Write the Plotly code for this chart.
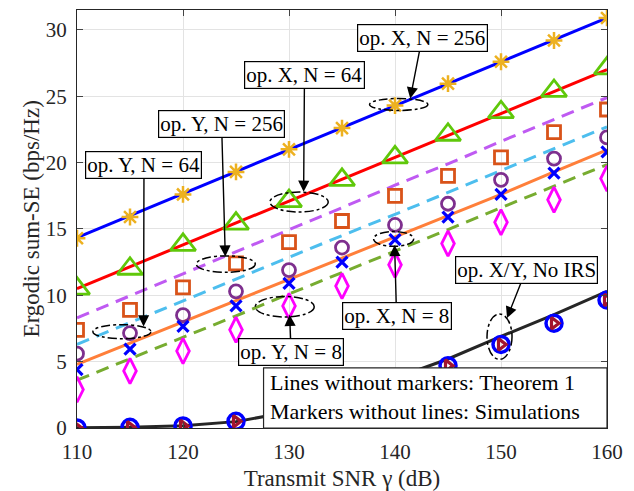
import plotly.graph_objects as go

snr = [110, 115, 120, 125, 130, 135, 140, 145, 150, 155, 160]

# Theory (lines without markers)
th_x256 = [14.35, 16.0, 17.65, 19.3, 20.95, 22.6, 24.25, 25.9, 27.55, 29.2, 30.9]
th_x64 = [10.5, 12.15, 13.8, 15.45, 17.1, 18.75, 20.4, 22.05, 23.7, 25.35, 27.0]
th_y256 = [8.3, 9.95, 11.6, 13.3, 14.95, 16.6, 18.3, 19.9, 21.6, 23.25, 24.9]
th_y64 = [6.3, 7.95, 9.6, 11.2, 12.85, 14.5, 16.1, 17.75, 19.4, 21.05, 22.7]
th_x8 = [4.8, 6.4, 8.0, 9.6, 11.2, 12.8, 14.4, 16.0, 17.6, 19.3, 20.95]
th_y8 = [3.6, 5.2, 6.85, 8.45, 10.1, 11.7, 13.35, 14.95, 16.6, 18.2, 19.85]
th_noirs = [0.02, 0.06, 0.17, 0.48, 1.2, 2.3, 3.75, 5.2, 6.9, 8.55, 10.3]

# Simulations (markers without lines)
sim_x256 = [14.3, 15.9, 17.6, 19.3, 21.0, 22.6, 24.3, 25.95, 27.6, 29.2, 30.9]
sim_x64 = [10.5, 12.0, 13.8, 15.4, 17.1, 18.7, 20.4, 22.1, 23.8, 25.4, 27.1]
sim_y256 = [7.4, 8.9, 10.6, 12.4, 14.0, 15.6, 17.5, 19.0, 20.4, 22.3, 24.0]
sim_y64 = [5.6, 7.15, 8.5, 10.3, 11.9, 13.6, 15.3, 16.9, 18.7, 20.3, 21.9]
sim_x8 = [4.4, 5.95, 7.65, 9.2, 10.9, 12.5, 14.2, 15.9, 17.6, 19.2, 20.8]
sim_y8 = [2.9, 4.3, 5.8, 7.4, 9.2, 10.7, 12.3, 13.9, 15.5, 17.2, 18.8]
sim_noirs = [0.0, 0.05, 0.15, 0.5, 1.2, 2.2, 3.4, 4.7, 6.3, 7.9, 9.65]

x_ticks = [110, 120, 130, 140, 150, 160]
y_ticks = [0, 5, 10, 15, 20, 25, 30]

FONT = "Liberation Serif"

fig = go.Figure()

DASH = "13px,8px"
lines = [
    (th_x256, "#0000FF", "solid"),
    (th_x64, "#FF0000", "solid"),
    (th_y256, "#BF5AF2", DASH),
    (th_y64, "#4DBEEE", DASH),
    (th_x8, "#FF7F3A", "solid"),
    (th_y8, "#77AC30", DASH),
    (th_noirs, "#262626", "solid"),
]
for ys, col, dash in lines:
    fig.add_trace(go.Scatter(x=snr, y=ys, mode="lines",
                             line=dict(color=col, width=3, dash=dash),
                             showlegend=False, hoverinfo="skip"))

markers = [
    (sim_x256, "asterisk-open", "#EDB120", 14, 2.5),
    (sim_x64, "triangle-up-open", "#5FC80A", 22, 2.8),
    (sim_y256, "square-open", "#D95319", 13, 2.8),
    (sim_y64, "circle-open", "#7E2F8E", 13, 2.8),
    (sim_x8, "x-thin-open", "#0000FF", 11, 3.2),
    (sim_y8, "diamond-tall-open", "#FF00FF", 18, 2.8),
    (sim_noirs, "circle-open", "#0000FF", 16, 3.5),
    (sim_noirs, "triangle-right-open", "#A2142F", 10, 3.2),
]
for ys, sym, col, size, lw in markers:
    fig.add_trace(go.Scatter(x=snr, y=ys, mode="markers",
                             marker=dict(symbol=sym, size=size, color=col,
                                         line=dict(color=col, width=lw)),
                             showlegend=False, hoverinfo="skip"))

# dash-dot ellipses
ellipses = [
    (137.6, 143.1, 23.93, 24.83),
    (128.2, 133.7, 16.28, 17.78),
    (121.26, 126.82, 11.73, 12.97),
    (111.5, 116.97, 6.73, 7.79),
    (126.82, 132.38, 8.37, 9.91),
    (137.98, 141.76, 13.69, 14.81),
    (148.68, 151.04, 5.17, 8.59),
]
shapes = []
for x0, x1, y0, y1 in ellipses:
    shapes.append(dict(type="circle", xref="x", yref="y", x0=x0, x1=x1, y0=y0, y1=y1,
                       line=dict(color="black", width=1.5, dash="dashdot"), layer="above"))
# legend-like text box
shapes.append(dict(type="rect", xref="paper", yref="paper", x0=0.352, x1=1.0, y0=0.0, y1=0.1437,
                   fillcolor="white", line=dict(color="#262626", width=1.2), layer="above"))

labels = [
    ("op. X, N = 256", 142.55, 29.4, 141.44, 24.83),
    ("op. X, N = 64", 131.46, 26.6, 131.38, 17.8),
    ("op. Y, N = 256", 123.64, 22.94, 123.99, 12.92),
    ("op. Y, N = 64", 116.32, 19.83, 116.28, 7.65),
    ("op. Y, N = 8", 130.2, 5.71, 130.06, 8.53),
    ("op. X, N = 8", 140.15, 8.41, 139.96, 13.8),
    ("op. X/Y, No IRS", 152.37, 11.92, 150.57, 8.29),
]
annotations = []
for txt, tx, ty, hx, hy in labels:
    annotations.append(dict(text=txt, x=hx, y=hy, ax=tx, ay=ty, xref="x", yref="y",
                            axref="x", ayref="y", showarrow=True, arrowhead=2,
                            arrowsize=1.6, arrowwidth=1.4, arrowcolor="black",
                            font=dict(family=FONT, size=21, color="black"),
                            bgcolor="white", bordercolor="black", borderwidth=1.2,
                            borderpad=1))
annotations.append(dict(text="Lines without markers: Theorem 1<br>Markers without lines: Simulations",
                        xref="paper", yref="paper", x=0.36, y=0.074, xanchor="left",
                        yanchor="middle", align="left", showarrow=False,
                        font=dict(family=FONT, size=22, color="black")))
# y-axis title placed explicitly
annotations.append(dict(text="Ergodic sum-SE (bps/Hz)", xref="paper", yref="paper",
                        x=-0.086, y=0.5, xanchor="center", yanchor="middle",
                        textangle=-90, showarrow=False,
                        font=dict(family=FONT, size=23, color="#262626")))

fig.update_layout(
    width=634, height=491,
    margin=dict(l=77, r=27, t=10, b=63),
    paper_bgcolor="white", plot_bgcolor="white",
    font=dict(family=FONT, size=21, color="#262626"),
    shapes=shapes, annotations=annotations,
    xaxis=dict(range=[110, 160], tickvals=x_ticks, ticks="inside", ticklen=6,
               showgrid=True, gridcolor="#E3E3E3", gridwidth=1, zeroline=False,
               showline=True, linecolor="#262626", linewidth=1, mirror="ticks",
               ticklabelstandoff=5, automargin=False,
               tickfont=dict(family=FONT, size=21, color="#262626"),
               title=dict(text="Transmit SNR γ (dB)", font=dict(family=FONT, size=23, color="#262626"),
                          standoff=6)),
    yaxis=dict(range=[0, 31.5], tickvals=y_ticks, ticks="inside", ticklen=6,
               showgrid=True, gridcolor="#E3E3E3", gridwidth=1, zeroline=False,
               showline=True, linecolor="#262626", linewidth=1, mirror="ticks",
               ticklabelstandoff=5, automargin=False,
               tickfont=dict(family=FONT, size=21, color="#262626")),
)

fig.write_html("out.html")
